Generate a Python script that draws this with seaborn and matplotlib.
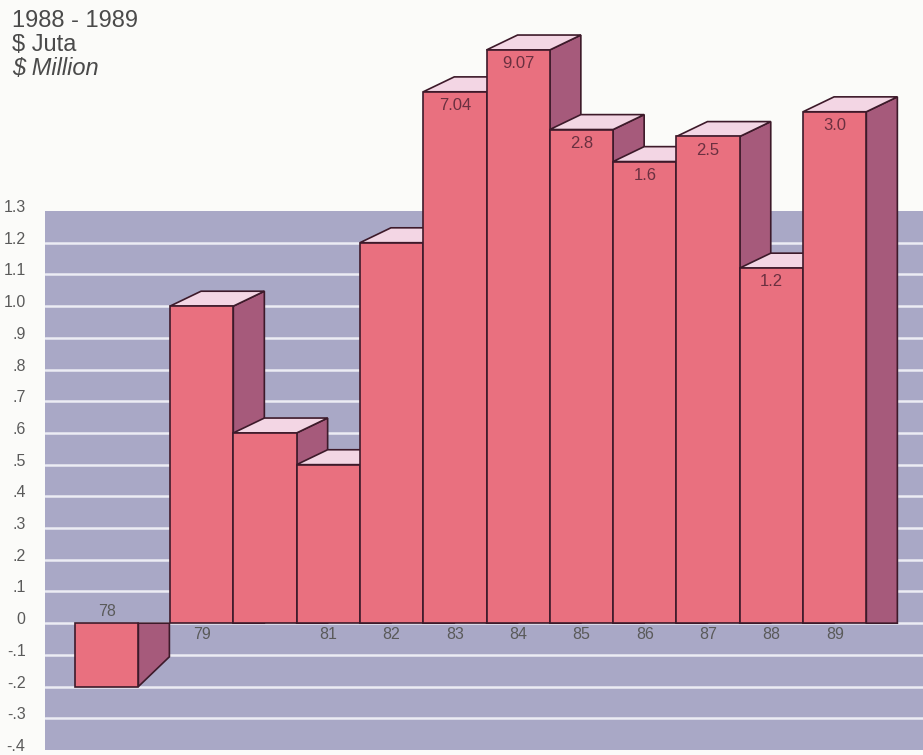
import numpy as np
import pandas as pd
import matplotlib.pyplot as plt
import matplotlib.transforms as mtransforms
import seaborn as sns

# data (scale is broken above 1.3, so the tall bars
# are drawn shorter than their printed values)
years = ['78', '79', '80', '81', '82', '83', '84', '85', '86', '87', '88', '89']
year_labels = ['78', '79', '', '81', '82', '83', '84', '85', '86', '87', '88', '89']
drawn_height = [-0.2, 1.0, 0.6, 0.5, 1.2, 1.676, 1.808, 1.557, 1.456, 1.535, 1.12, 1.613]
value_labels = ['', '', '', '', '', '7.04', '9.07', '2.8', '1.6', '2.5', '1.2', '3.0']
ytick_values = [-0.4, -0.3, -0.2, -0.1, 0.0, 0.1, 0.2, 0.3, 0.4, 0.5, 0.6,
                0.7, 0.8, 0.9, 1.0, 1.1, 1.2, 1.3]
ytick_labels = ['-.4', '-.3', '-.2', '-.1', '0', '.1', '.2', '.3', '.4', '.5', '.6',
                '.7', '.8', '.9', '1.0', '1.1', '1.2', '1.3']

FRONT = '#e9707f'
SIDE = '#a65a7b'
TOP = '#f3d6e4'
EDGE = '#3d1a2a'
BACK = '#a9a8c6'
TEXT = '#5a5a5a'

sns.set_theme(style='white')
plt.rcParams['font.family'] = ['Liberation Sans', 'DejaVu Sans']

# positions: one slot per year, the negative 78 bar is pushed left
# to leave room for its side face
pos = np.array([int(y) for y in years], dtype=float) - 78
pos[0] -= 0.5

df = pd.DataFrame({'pos': pos, 'height': drawn_height})

fig = plt.figure(figsize=(9.23, 7.55), dpi=100, facecolor='#fbfbf9')
ax = fig.add_axes([45 / 923, 5 / 755, 1 - 45 / 923, (750 - 211) / 755])
ax.set_facecolor(BACK)

sns.barplot(data=df, x='pos', y='height', native_scale=True, width=1.0,
            color=FRONT, saturation=1, edgecolor=EDGE, linewidth=1.2, ax=ax)

# depth of the fake 3d boxes
dx = 0.49
dy = 0.047

for i, patch in enumerate(ax.patches):
    patch.set_clip_on(False)
    patch.set_facecolor(FRONT)
    patch.set_zorder(3 + i * 3 + 2)
    x1 = pos[i] + 0.5
    x0 = pos[i] - 0.5
    h = drawn_height[i]
    if h >= 0:
        side = [(x1, 0), (x1 + dx, 0), (x1 + dx, h + dy), (x1, h)]
        top = [(x0, h), (x1, h), (x1 + dx, h + dy), (x0 + dx, h + dy)]
        ax.add_patch(plt.Polygon(top, closed=True, facecolor=TOP, edgecolor=EDGE,
                                 linewidth=1.2, zorder=3 + i * 3 + 1, clip_on=False))
    else:
        side = [(x1, 0), (x1 + dx, 0), (x1 + dx, h + 2 * dy), (x1, h)]
    ax.add_patch(plt.Polygon(side, closed=True, facecolor=SIDE, edgecolor=EDGE,
                             linewidth=1.2, zorder=3 + i * 3, clip_on=False))

    if value_labels[i]:
        ax.text(pos[i], h - 0.02, value_labels[i], ha='center', va='top',
                fontsize=12, color='#6a3040', zorder=50, clip_on=False)

    if year_labels[i]:
        if h < 0:
            ax.text(pos[i], 0.012, year_labels[i], ha='center', va='bottom',
                    fontsize=11.5, color=TEXT, zorder=50)
        else:
            ax.text(pos[i], -0.012, year_labels[i], ha='center', va='top',
                    fontsize=11.5, color=TEXT, zorder=50)

# white grid lines inside the lavender panel
for v in ytick_values[1:-1]:
    ax.axhline(v, color='#ececf4', linewidth=1.8, zorder=1)

ax.set_xlim(-1.475, 12.395)
ax.set_ylim(-0.4, 1.3)
ax.set_yticks(ytick_values)
ax.set_yticklabels(ytick_labels)
ax.tick_params(axis='y', length=0, pad=14, labelsize=11.5, labelcolor=TEXT)
# lift the tick labels a little, as in the original
shift = mtransforms.ScaledTranslation(0, 5 / 100, fig.dpi_scale_trans)
for lab in ax.get_yticklabels():
    lab.set_transform(lab.get_transform() + shift)
ax.set_xticks([])
ax.set_xlabel('')
ax.set_ylabel('')
for s in ax.spines.values():
    s.set_visible(False)

fig.text(12 / 923, 1 - 27 / 755, '1988 - 1989', fontsize=17, color='#4a4a4a', va='baseline')
fig.text(12 / 923, 1 - 51 / 755, '$ Juta', fontsize=17, color='#4a4a4a', va='baseline')
fig.text(12 / 923, 1 - 75 / 755, '$ Million', fontsize=17, color='#4a4a4a', va='baseline',
         style='italic')

plt.savefig('out.png', dpi=100, facecolor=fig.get_facecolor())
